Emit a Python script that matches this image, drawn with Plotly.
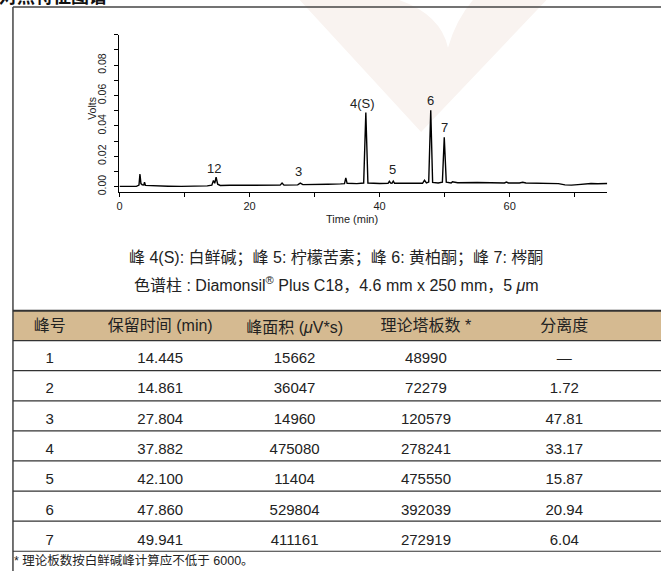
import plotly.graph_objects as go

W, H = 661, 575

# ---------------- chromatogram data ----------------
time_min = [0.0, 2.6, 3.0, 3.15, 3.3, 3.5, 3.75, 3.85, 4.0, 5.5,
            7.5, 9.5, 11.5, 13.5, 14.2, 14.45, 14.65, 14.86, 15.1, 15.5,
            17.0, 19.0, 21.0, 23.0, 24.7, 25.0, 25.3, 27.4, 27.8, 28.2,
            30.0, 32.0, 34.0, 34.6, 34.8, 35.0, 36.5, 37.55, 37.88, 38.2,
            40.0, 41.3, 41.5, 41.7, 41.9, 42.1, 42.3, 44.0, 46.6, 46.9,
            47.2, 47.55, 47.86, 48.15, 49.0, 49.65, 49.94, 50.25, 51.0, 51.2,
            52.0, 55.0, 58.0, 59.2, 59.5, 59.8, 61.5, 62.0, 62.5, 65.0,
            67.5, 68.5, 69.5, 70.5, 71.5, 72.5, 73.5, 75.0]
volts = [0.0002, 0.0002, 0.0010, 0.0083, 0.0020, 0.0012, 0.0011, 0.0030, 0.0008, 0.0005,
         0.0003, 0.0002, 0.0003, 0.0005, 0.0010, 0.0040, 0.0022, 0.0062, 0.0016, 0.0008,
         0.0009, 0.0008, 0.0009, 0.0008, 0.0010, 0.0024, 0.0010, 0.0012, 0.0023, 0.0013,
         0.0013, 0.0016, 0.0018, 0.0020, 0.0058, 0.0022, 0.0020, 0.0024, 0.0488, 0.0024,
         0.0021, 0.0022, 0.0035, 0.0023, 0.0022, 0.0036, 0.0022, 0.0021, 0.0022, 0.0042,
         0.0024, 0.0030, 0.0503, 0.0028, 0.0024, 0.0030, 0.0325, 0.0030, 0.0024, 0.0032,
         0.0026, 0.0027, 0.0026, 0.0024, 0.0030, 0.0024, 0.0024, 0.0029, 0.0024, 0.0023,
         0.0020, 0.0012, 0.0010, 0.0013, 0.0019, 0.0021, 0.0019, 0.0021]

peak_labels = ["12", "3", "4(S)", "5", "6", "7"]
label_time = [14.6, 27.6, 37.4, 42.0, 47.85, 50.0]
label_volts = [0.0118, 0.0098, 0.0550, 0.0110, 0.0570, 0.0392]

x_ticks = [0, 20, 40, 60]
x_minor = [10, 30, 50, 70]
y_ticks = [0.0, 0.02, 0.04, 0.06, 0.08]
y_minor = [0.01, 0.03, 0.05, 0.07, 0.09, 0.10]

# ---------------- table data ----------------
headers = ["峰号", "保留时间 (min)", "峰面积 (<i>μ</i>V*s)", "理论塔板数 *", "分离度"]
peak_no = ["1", "2", "3", "4", "5", "6", "7"]
ret_time = ["14.445", "14.861", "27.804", "37.882", "42.100", "47.860", "49.941"]
area = ["15662", "36047", "14960", "475080", "11404", "529804", "411161"]
plates = ["48990", "72279", "120579", "278241", "475550", "392039", "272919"]
resolution = ["—", "1.72", "47.81", "33.17", "15.87", "20.94", "6.04"]

caption1 = "峰 4(S): 白鲜碱；峰 5: 柠檬苦素；峰 6: 黄柏酮；峰 7: 梣酮"
caption2 = "色谱柱 : Diamonsil<sup>®</sup> Plus C18，4.6 mm x 250 mm，5 <i>μ</i>m"
footnote = "* 理论板数按白鲜碱峰计算应不低于 6000。"
title = "对照特征图谱"

# ---------------- layout helpers ----------------
def px(x):
    return x / W

def py(y):
    return 1 - y / H

NARROW = "Liberation Sans Narrow, Arial Narrow, Liberation Sans, Noto Sans CJK SC"
SANS = "Liberation Sans, Arial, Noto Sans CJK SC"
TXT = "#222222"

fig = go.Figure()

fig.add_trace(go.Scatter(
    x=time_min, y=volts, mode="lines",
    line=dict(color="black", width=1.4),
    hoverinfo="skip", showlegend=False))

col_widths = [74, 148, 122, 142, 136]
hdr_h = 30
row_h = 30.3
tbl_top = 313
tbl_bot = tbl_top + hdr_h + row_h * len(peak_no)

fig.add_trace(go.Table(
    domain=dict(x=[px(10), px(632)], y=[py(tbl_bot), py(tbl_top)]),
    columnwidth=col_widths,
    header=dict(values=headers, height=hdr_h, align="center",
                fill=dict(color="rgba(0,0,0,0)"),
                line=dict(color="rgba(0,0,0,0)", width=0),
                font=dict(family=NARROW, size=16, color=TXT)),
    cells=dict(values=[peak_no, ret_time, area, plates, resolution],
               height=row_h, align="center",
               fill=dict(color="rgba(0,0,0,0)"),
               line=dict(color="rgba(0,0,0,0)", width=0),
               font=dict(family=NARROW, size=15, color=TXT))))

shapes = []
# watermark
path = "M {},{} L {},{} Q {},{} {},{} Q {},{} {},{} L {},{} L {},{} Z".format(
    px(298), py(0), px(398), py(0), px(440), py(15), px(447), py(48),
    px(455), py(20), px(472), py(0), px(546), py(0), px(420), py(133))
shapes.append(dict(type="path", path=path, xref="paper", yref="paper",
                   fillcolor="#f9f3f0", line=dict(width=0), layer="below"))
# header fill
shapes.append(dict(type="rect", xref="paper", yref="paper",
                   x0=px(10), x1=1, y0=py(tbl_top + hdr_h), y1=py(tbl_top),
                   fillcolor="#d5ba91", line=dict(width=0), layer="below"))
# frame
shapes.append(dict(type="line", xref="paper", yref="paper",
                   x0=px(10), x1=px(10), y0=py(7), y1=0,
                   line=dict(color="#444444", width=1.5)))
shapes.append(dict(type="line", xref="paper", yref="paper",
                   x0=px(10), x1=1, y0=py(7), y1=py(7),
                   line=dict(color="#444444", width=1.5)))
# table rules
rule_y = [tbl_top, tbl_top + hdr_h] + [tbl_top + hdr_h + row_h * (i + 1) for i in range(len(peak_no))]
for i, yy in enumerate(rule_y):
    shapes.append(dict(type="line", xref="paper", yref="paper",
                       x0=px(10), x1=1, y0=py(yy), y1=py(yy),
                       line=dict(color="#333333", width=2 if i == 0 else 1.2)))

annotations = []
for lab, t, v in zip(peak_labels, label_time, label_volts):
    annotations.append(dict(x=t, y=v, xref="x", yref="y", text=lab, showarrow=False,
                            xanchor="center", yanchor="middle",
                            font=dict(family=SANS, size=13, color=TXT)))

def note(x, y, text, size, family=NARROW, xanchor="center", **kw):
    return dict(x=px(x), y=py(y), xref="paper", yref="paper", text=text,
                showarrow=False, xanchor=xanchor, yanchor="middle",
                font=dict(family=family, size=size, color=kw.pop("color", TXT)), **kw)

annotations += [
    note(90, 109, "Volts", 10.5, family=SANS, textangle=-90),
    note(351, 221, "Time (min)", 11),
    note(335, 260, caption1, 16),
    note(335, 286, caption2, 16),
    note(9, 564, footnote, 12.5, xanchor="left"),
    note(-6, -4, "<b>" + title + "</b>", 18, family=SANS, xanchor="left", color="#111111"),
]

fig.update_layout(
    width=W, height=H,
    margin=dict(l=0, r=0, t=0, b=0),
    paper_bgcolor="white", plot_bgcolor="rgba(0,0,0,0)",
    showlegend=False,
    shapes=shapes, annotations=annotations,
    xaxis=dict(domain=[px(117), px(607)], range=[0, 75],
               tickmode="array", tickvals=x_ticks,
               ticks="outside", ticklen=4, tickwidth=1, tickcolor="black",
               minor=dict(tickmode="array", tickvals=x_minor, ticks="outside", ticklen=4, tickcolor="black"),
               showline=True, linecolor="black", linewidth=1.2,
               showgrid=False, zeroline=False,
               tickfont=dict(family=SANS, size=11, color=TXT)),
    yaxis=dict(domain=[py(193), py(35)], range=[-0.0033, 0.10],
               tickmode="array", tickvals=y_ticks, tickformat=".2f", tickangle=-90,
               ticks="outside", ticklen=4, tickwidth=1, tickcolor="black",
               minor=dict(tickmode="array", tickvals=y_minor, ticks="outside", ticklen=4, tickcolor="black"),
               showline=True, linecolor="black", linewidth=1.2,
               showgrid=False, zeroline=False, ticklabelstandoff=4,
               tickfont=dict(family=SANS, size=10.5, color=TXT)),
)

fig.write_html("out.html", config={"displayModeBar": False},
               post_script="document.body.style.margin='0px';document.body.style.padding='0px';")
